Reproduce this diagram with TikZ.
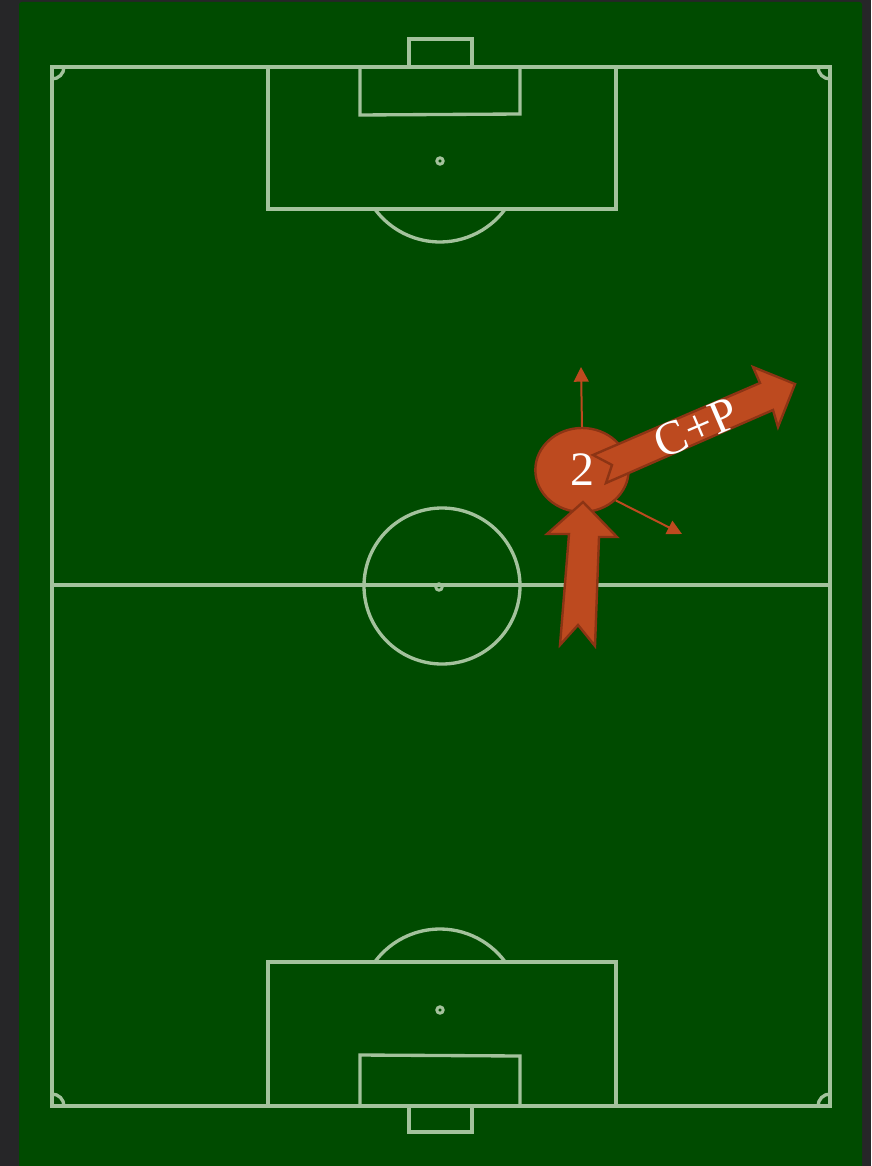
\documentclass[tikz,border=0pt]{standalone}
\usepackage{fontspec}
\setmainfont{Liberation Serif}
\usepackage{tikz}
\usetikzlibrary{arrows.meta, shapes.geometric}
\definecolor{rand}{HTML}{262628}
\definecolor{rasen}{HTML}{004B00}
\definecolor{kreide}{HTML}{A3C29C}
\definecolor{trikot}{HTML}{BD4A1F}
\definecolor{trikotrand}{HTML}{8C3414}

\begin{document}
\begin{tikzpicture}[x=0.75pt, y=-0.75pt,
      linie/.style={draw=kreide, line width=2.5pt},
      punkt/.style={draw=kreide, line width=2.2pt},
      spieler/.style={ellipse, draw=trikotrand, line width=1.8pt,
        fill=trikot, text=white, inner sep=0pt, font=\fontsize{36}{36}\selectfont,
        minimum width=70pt, minimum height=63pt},
      bahn/.style={draw=trikotrand, line width=1.8pt, fill=trikot, line join=miter},
      pfeil/.style={-{Triangle[length=11pt, width=11pt]}, trikot, line width=1.5pt},
      beschriftung/.style={text=white, inner sep=0pt, font=\fontsize{36}{36}\selectfont}]
    \useasboundingbox (0,0) rectangle (871,1166);
    \fill[rand] (0,0) rectangle (871,1166);
    \fill[rasen, rounded corners=2pt] (19,2) rectangle (862,1170);
    % Spielfeld
    \draw[linie] (52,67) rectangle (830,1106);
    \draw[linie] (52,585) -- (830,585);
    \coordinate (anstoss) at (442,586);
    \coordinate (elfmeteroben) at (440,161);
    \coordinate (elfmeterunten) at (440,1010);
    \draw[linie] (anstoss) circle[radius=78];
    \draw[punkt] (439,587) circle[radius=3.2];
    \draw[punkt] (elfmeteroben) circle[radius=3.2];
    \draw[punkt] (elfmeterunten) circle[radius=3.2];
    \draw[linie] (268,67) -- (268,209) -- (616,209) -- (616,67);
    \draw[linie] (360,67) -- (360,115) -- (520,114) -- (520,67);
    \draw[linie] (409,67) -- (409,39) -- (472,39) -- (472,67);
    \draw[linie] ([shift={(36.3:81)}]elfmeteroben) arc[start angle=36.3, end angle=143.7, radius=81];
    \draw[linie] (268,1106) -- (268,962) -- (616,962) -- (616,1106);
    \draw[linie] (360,1106) -- (360,1055) -- (520,1056) -- (520,1106);
    \draw[linie] (409,1106) -- (409,1132) -- (472,1132) -- (472,1106);
    \draw[linie] ([shift={(-36.3:81)}]elfmeterunten) arc[start angle=-36.3, end angle=-143.7, radius=81];
    \draw[linie] (64,67) arc[start angle=0, end angle=90, radius=12];
    \draw[linie] (830,79) arc[start angle=90, end angle=180, radius=12];
    \draw[linie] (52,1094) arc[start angle=-90, end angle=0, radius=12];
    \draw[linie] (818,1106) arc[start angle=180, end angle=270, radius=12];
    % Spieler
    \node[spieler] (spieler2) at (582,470) {2};
    \coordinate (lauf1) at (581,367);
    \coordinate (lauf2) at (682,534);
    \draw[pfeil] (spieler2.north) -- (lauf1);
    \draw[pfeil] (spieler2.-42) -- (lauf2);
    \draw[bahn] (560,645) -- (578,625) -- (595,646) -- (599,537) -- (617,537)
      -- (583,502) -- (547,534) -- (569,534) -- cycle;
    \draw[bahn] (593,455) -- (760,383) -- (753,367) -- (795,384) -- (778,427)
      -- (773,410) -- (606,483) -- (612,465) -- cycle;
    \node[beschriftung, rotate=23.3] (cp) at (696,428) {C+P};
  \end{tikzpicture}
\end{document}
